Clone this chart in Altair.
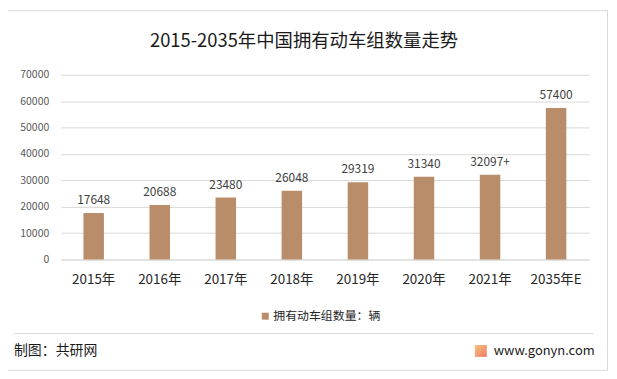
import altair as alt
import pandas as pd

years = ["2015年", "2016年", "2017年", "2018年", "2019年", "2020年", "2021年", "2035年E"]
values = [17648, 20688, 23480, 26048, 29319, 31340, 32097, 57400]
value_labels = ["17648", "20688", "23480", "26048", "29319", "31340", "32097+", "57400"]
y_ticks = [0, 10000, 20000, 30000, 40000, 50000, 60000, 70000]
series_name = "拥有动车组数量：辆"
title_text = "2015-2035年中国拥有动车组数量走势"
source_text = "制图：共研网"
site_text = "www.gonyn.com"

FONT = "Noto Sans CJK SC"
BAR = "#b98d6a"

df = pd.DataFrame({"year": years, "value": values, "label": value_labels, "series": [series_name] * len(years)})
one = pd.DataFrame({"a": [0]})

xenc = alt.X("year:N", sort=years, title=None,
             scale=alt.Scale(paddingInner=0.69, paddingOuter=0.345),
             axis=alt.Axis(labelAngle=0, labelFontSize=13.5, labelColor="#262626", labelFont=FONT,
                           ticks=False, tickSize=0, labelPadding=13, domainColor="#d9d9d9", grid=False))
yenc = alt.Y("value:Q", title=None,
             scale=alt.Scale(domain=[0, 70000], nice=False),
             axis=alt.Axis(values=y_ticks, format="d", labelOverlap=False,
                           labelFontSize=10.5, labelColor="#595959",
                           labelFont=FONT, ticks=False, tickSize=0, labelPadding=12, domain=False,
                           gridColor="#d9d9d9", gridWidth=1))

bars = alt.Chart(df).mark_bar(color=BAR).encode(
    x=xenc, y=yenc,
    color=alt.Color("series:N", scale=alt.Scale(range=[BAR]),
                    legend=alt.Legend(title=None, orient="none", legendX=200, legendY=237,
                                      symbolType="square", symbolSize=49, labelFontSize=12,
                                      labelFont=FONT, labelColor="#262626", symbolStrokeWidth=0,
                                      labelOffset=2)))

labels = alt.Chart(df).mark_text(baseline="alphabetic", dy=-9, fontSize=12, font=FONT, color="#404040").encode(
    x=xenc, y=yenc, text="label:N")

border = alt.Chart(one).mark_rect(filled=False, stroke="#d9d9d9", strokeWidth=1).encode(
    x=alt.value(-54.5), x2=alt.value(550.5), y=alt.value(-64.5), y2=alt.value(297.5))

sep = alt.Chart(one).mark_rule(color="#d9d9d9", strokeWidth=1).encode(
    x=alt.value(-47), x2=alt.value(536), y=alt.value(260.5))

title = alt.Chart(one).mark_text(fontSize=18.5, font=FONT, color="#1a1a1a", align="center", baseline="middle").encode(
    x=alt.value(245), y=alt.value(-34), text=alt.value(title_text))

src = alt.Chart(one).mark_text(fontSize=14, font=FONT, color="#1a1a1a", align="left", baseline="middle").encode(
    x=alt.value(-47), y=alt.value(278), text=alt.value(source_text))

site = alt.Chart(one).mark_text(fontSize=13, font=FONT, color="#1a1a1a", align="left", baseline="middle").encode(
    x=alt.value(436), y=alt.value(278), text=alt.value(site_text))

logo = alt.Chart(one).mark_rect(
    color=alt.Gradient(gradient="linear", stops=[alt.GradientStop(color="#f7c27a", offset=0),
                                                alt.GradientStop(color="#ef7a6a", offset=1)],
                       x1=0, x2=1, y1=0, y2=1)).encode(
    x=alt.value(417), x2=alt.value(429), y=alt.value(272), y2=alt.value(284))

chart = alt.layer(border, sep, bars, labels, title, src, site, logo).properties(
    width=532, height=186,
    autosize=alt.AutoSizeParams(type="none"),
    padding={"left": 53, "top": 66, "right": 20, "bottom": 113},
    background="white",
).configure_view(stroke=None)

chart.save("out.html", embed_options={"renderer": "svg", "actions": False})
